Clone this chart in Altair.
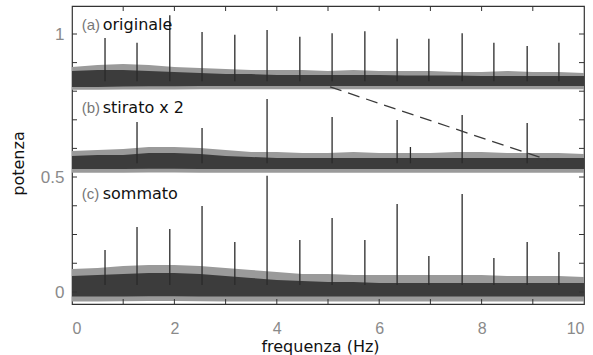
import altair as alt
import pandas as pd

# ---------------- data ----------------
freq_grid = [0.0, 0.5, 1.0, 1.5, 2.0, 2.5, 3.0, 3.5, 4.0, 4.5, 5.0,
             5.5, 6.0, 6.5, 7.0, 7.5, 8.0, 8.5, 9.0, 9.5, 10.0]

# noise envelopes (outer = extreme excursions, core = dense part)
a_outer_hi = [0.885, 0.892, 0.895, 0.892, 0.885, 0.881, 0.878, 0.874, 0.874, 0.874, 0.871,
              0.874, 0.871, 0.871, 0.871, 0.867, 0.867, 0.871, 0.867, 0.867, 0.864]
a_core_hi = [0.871, 0.874, 0.874, 0.871, 0.867, 0.864, 0.860, 0.860, 0.857, 0.857, 0.857,
             0.857, 0.857, 0.855, 0.855, 0.855, 0.853, 0.853, 0.853, 0.853, 0.853]
a_core_lo = [0.815, 0.815, 0.816, 0.817, 0.817, 0.818, 0.818, 0.818, 0.818, 0.818, 0.818,
             0.818, 0.818, 0.818, 0.818, 0.818, 0.818, 0.818, 0.818, 0.818, 0.818]
a_outer_lo = [0.805, 0.805, 0.806, 0.806, 0.806, 0.807, 0.807, 0.807, 0.807, 0.807, 0.807,
              0.807, 0.807, 0.807, 0.807, 0.807, 0.807, 0.807, 0.807, 0.807, 0.807]

b_outer_hi = [0.591, 0.594, 0.598, 0.605, 0.605, 0.601, 0.594, 0.587, 0.587, 0.584, 0.584,
              0.587, 0.584, 0.584, 0.584, 0.587, 0.587, 0.584, 0.584, 0.584, 0.580]
b_core_hi = [0.573, 0.577, 0.577, 0.584, 0.584, 0.580, 0.573, 0.570, 0.566, 0.566, 0.566,
             0.566, 0.566, 0.566, 0.566, 0.566, 0.566, 0.566, 0.566, 0.566, 0.566]
b_core_lo = [0.528, 0.528, 0.528, 0.529, 0.529, 0.528, 0.528, 0.528, 0.528, 0.528, 0.528,
             0.528, 0.528, 0.528, 0.528, 0.528, 0.528, 0.528, 0.528, 0.528, 0.528]
b_outer_lo = [0.515, 0.515, 0.515, 0.516, 0.516, 0.515, 0.515, 0.515, 0.515, 0.515, 0.515,
              0.515, 0.515, 0.515, 0.515, 0.515, 0.515, 0.515, 0.515, 0.515, 0.515]

c_outer_hi = [0.100, 0.104, 0.113, 0.117, 0.117, 0.113, 0.104, 0.096, 0.087, 0.078, 0.078,
              0.074, 0.074, 0.074, 0.074, 0.074, 0.074, 0.070, 0.070, 0.070, 0.065]
c_core_hi = [0.070, 0.074, 0.078, 0.083, 0.083, 0.078, 0.070, 0.061, 0.052, 0.048, 0.043,
             0.043, 0.039, 0.039, 0.039, 0.039, 0.039, 0.039, 0.039, 0.039, 0.039]
c_core_lo = [-0.020, -0.020, -0.019, -0.018, -0.018, -0.019, -0.020, -0.020, -0.020, -0.020, -0.020,
             -0.020, -0.020, -0.020, -0.020, -0.020, -0.020, -0.020, -0.020, -0.020, -0.020]
c_outer_lo = [-0.041, -0.041, -0.040, -0.039, -0.039, -0.040, -0.041, -0.041, -0.041, -0.041, -0.041,
              -0.041, -0.041, -0.041, -0.041, -0.041, -0.041, -0.041, -0.041, -0.041, -0.041]

# spectral lines
a_freqs = [0.645, 1.27, 1.91, 2.54, 3.18, 3.81, 4.45, 5.08, 5.72, 6.35, 6.97, 7.62, 8.24, 8.89, 9.51]
a_tops = [0.986, 0.969, 1.066, 1.007, 0.997, 1.014, 0.990, 1.003, 1.010, 0.983, 0.983, 1.003, 0.969, 0.958, 0.969]
a_base = 0.835

b_freqs = [1.27, 2.54, 3.81, 5.08, 6.35, 6.61, 7.62, 8.89]
b_tops = [0.692, 0.671, 0.773, 0.710, 0.699, 0.605, 0.717, 0.689]
b_base = 0.548

c_freqs = [0.645, 1.27, 1.91, 2.54, 3.18, 3.81, 4.45, 5.08, 5.72, 6.35, 6.97, 7.62, 8.24, 8.89, 9.51]
c_tops = [0.183, 0.283, 0.274, 0.374, 0.217, 0.504, 0.226, 0.322, 0.226, 0.383, 0.157, 0.426, 0.148, 0.217, 0.174]
c_base = 0.030

dash_x = [5.04, 9.30]
dash_y = [0.815, 0.559]

labels_tag = ["(a)", "(b)", "(c)"]
labels_name = ["originale", "stirato x 2", "sommato"]
labels_y = [1.031, 0.741, 0.426]
tag_x = 0.19
name_x = 0.60

x_ticks = [0, 2, 4, 6, 8, 10]
x_minor = [1, 2, 3, 4, 5, 6, 7, 8, 9]
y_labels = [0, 0.5, 1]
y_minor = [0, 0.125, 0.25, 0.375, 0.5, 0.6, 0.7, 0.8, 0.9, 1.0]

# ---------------- tables ----------------
rows = []
for name, oh, ch, cl, ol in [("a", a_outer_hi, a_core_hi, a_core_lo, a_outer_lo),
                             ("b", b_outer_hi, b_core_hi, b_core_lo, b_outer_lo),
                             ("c", c_outer_hi, c_core_hi, c_core_lo, c_outer_lo)]:
    for i, f in enumerate(freq_grid):
        rows.append(dict(series=name, f=f, ohi=oh[i], chi=ch[i], clo=cl[i], olo=ol[i]))
noise = pd.DataFrame(rows)

srows = []
for fr, tp, base in [(a_freqs, a_tops, a_base), (b_freqs, b_tops, b_base), (c_freqs, c_tops, c_base)]:
    for f, t in zip(fr, tp):
        srows.append(dict(f=f, base=base, top=t))
spikes = pd.DataFrame(srows)

dash = pd.DataFrame(dict(f=dash_x, v=dash_y))
labs = pd.DataFrame(dict(tag=labels_tag, name=labels_name, v=labels_y,
                         tx=[tag_x] * 3, nx=[name_x] * 3))
xt = pd.DataFrame(dict(f=x_minor))
yt = pd.DataFrame(dict(v=y_minor))

W, H = 512, 298
xs = alt.Scale(domain=[0, 10], nice=False, zero=False)
ys = alt.Scale(domain=[-0.052, 0, 0.5, 1, 1.098], range=[298, 286, 171, 28, 0], nice=False, zero=False)

xaxis = alt.Axis(values=x_ticks, ticks=False, tickSize=0, domain=False, grid=False,
                 labelFont="Liberation Sans", labelFontSize=16, labelColor="#8a8a8a",
                 labelPadding=16, title="frequenza (Hz)", titleFont="DejaVu Sans",
                 titleFontSize=16, titleFontWeight="normal", titleColor="#111111",
                 titleX=248, titleY=47, titleBaseline="alphabetic", titleAnchor="start",
                 titleAlign="center")
yaxis = alt.Axis(values=y_labels, format="~g", ticks=False, tickSize=0, domain=False, grid=False,
                 labelFont="Liberation Sans", labelFontSize=17, labelColor="#8a8a8a",
                 labelPadding=8, title="potenza", titleFont="DejaVu Sans",
                 titleFontSize=16, titleFontWeight="normal", titleColor="#111111",
                 titleX=-54, titleY=157, titleAngle=-90, titleAlign="center",
                 titleBaseline="middle", titleAnchor="start")


def X(field):
    return alt.X(field, type="quantitative", scale=xs, axis=xaxis)


def Y(field):
    return alt.Y(field, type="quantitative", scale=ys, axis=yaxis)


outer = alt.Chart(noise).mark_area(color="#9a9a9a", interpolate="linear").encode(
    x=X("f"), y=Y("olo"), y2=alt.Y2("ohi"), detail="series:N")
core = alt.Chart(noise).mark_area(color="#3c3c3c", interpolate="linear").encode(
    x=X("f"), y=Y("clo"), y2=alt.Y2("chi"), detail="series:N")
lines = alt.Chart(spikes).mark_rule(color="#2a2a2a", strokeWidth=1.3).encode(
    x=X("f"), y=Y("base"), y2=alt.Y2("top"))
dashed = alt.Chart(dash).mark_line(color="#3a3a3a", strokeWidth=1.3, strokeDash=[12, 7]).encode(
    x=X("f"), y=Y("v"))

tick_l = alt.Chart(yt).mark_rule(color="#333333", strokeWidth=1).encode(
    y=Y("v"), x=alt.value(0), x2=alt.value(5))
tick_r = alt.Chart(yt).mark_rule(color="#333333", strokeWidth=1).encode(
    y=Y("v"), x=alt.value(W - 5), x2=alt.value(W))
tick_t = alt.Chart(xt).mark_rule(color="#333333", strokeWidth=1).encode(
    x=X("f"), y=alt.value(0), y2=alt.value(5))
tick_b = alt.Chart(xt).mark_rule(color="#333333", strokeWidth=1).encode(
    x=X("f"), y=alt.value(H - 5), y2=alt.value(H))

tags = alt.Chart(labs).mark_text(align="left", baseline="middle", font="Liberation Sans",
                                 fontSize=15, color="#777777").encode(
    x=X("tx"), y=Y("v"), text="tag:N")
names = alt.Chart(labs).mark_text(align="left", baseline="middle", font="DejaVu Sans",
                                  fontSize=16, color="#111111").encode(
    x=X("nx"), y=Y("v"), text="name:N")

chart = alt.layer(outer, core, lines, dashed, tick_l, tick_r, tick_t, tick_b, tags, names).properties(
    width=W, height=H,
    autosize=alt.AutoSizeParams(type="none"),
    padding={"left": 72, "top": 6, "right": 9, "bottom": 51},
    background="white",
).configure_view(stroke="#333333", strokeWidth=1.2)

chart.save("out.html", embed_options={"renderer": "svg", "actions": False})
